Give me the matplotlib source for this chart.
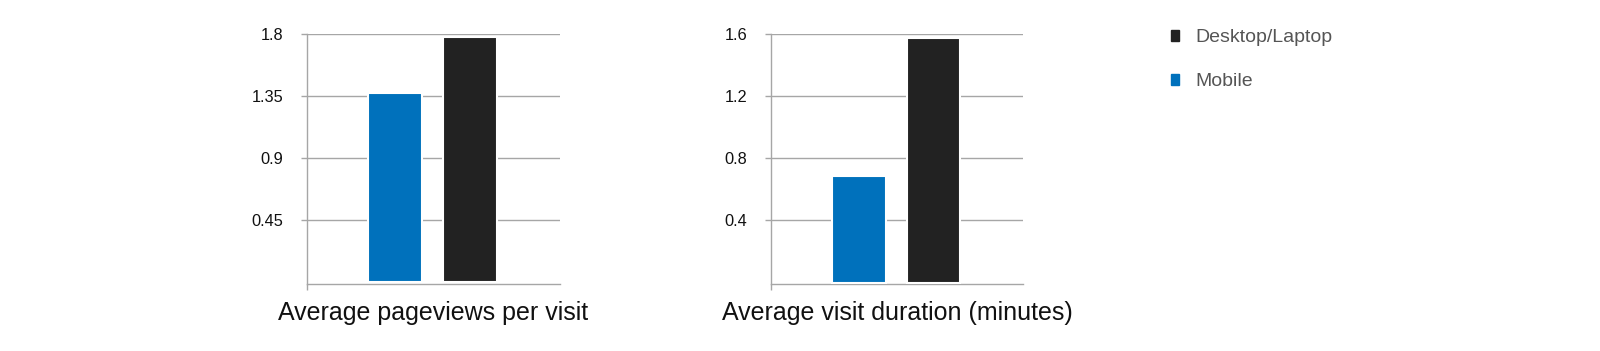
import numpy as np
import matplotlib
matplotlib.use("Agg")
import matplotlib.pyplot as plt

plt.rcParams['font.family'] = ['Liberation Sans', 'DejaVu Sans']

# data
series = ['Mobile', 'Desktop/Laptop']
colors = ['#0071bc', '#222222']
pageviews = [1.37, 1.78]
duration = [0.685, 1.575]
pv_ticks = [0.45, 0.9, 1.35, 1.8]
pv_labels = ['0.45', '0.9', '1.35', '1.8']
dur_ticks = [0.4, 0.8, 1.2, 1.6]
dur_labels = ['0.4', '0.8', '1.2', '1.6']

grid_col = '#a6a6a6'

fig = plt.figure(figsize=(16, 3.51), dpi=100)

def draw(ax, values, ticks, labels, ymin, ymax, xlabel):
    x = np.arange(len(values))
    ax.bar(x, values, width=0.72, color=colors, edgecolor='white', linewidth=1.5, zorder=3)
    ax.set_ylim(ymin, ymax)
    ax.set_xlim(-1.18, 2.2)
    ax.set_yticks(ticks)
    ax.set_yticklabels(labels, fontsize=11.8, color='#111111')
    ax.yaxis.grid(True, color=grid_col, linewidth=1, zorder=0)
    ax.set_axisbelow(True)
    ax.set_xticks([-1.18])
    ax.set_xticklabels([''])
    ax.tick_params(axis='x', length=4, color=grid_col, width=1)
    ax.tick_params(axis='y', length=4, color=grid_col, width=1, pad=13)
    for s in ['top', 'right']:
        ax.spines[s].set_visible(False)
    for s in ['left', 'bottom']:
        ax.spines[s].set_color(grid_col)
        ax.spines[s].set_linewidth(1)
    ax.set_xlabel(xlabel, fontsize=18, color='#111111', labelpad=4.5)

ax1 = fig.add_axes([307 / 1600, 1 - 284 / 351, 253 / 1600, 250 / 351])
draw(ax1, pageviews, pv_ticks, pv_labels, -0.015, 1.8, 'Average pageviews per visit')

ax2 = fig.add_axes([771 / 1600, 1 - 284 / 351, 252 / 1600, 250 / 351])
draw(ax2, duration, dur_ticks, dur_labels, -0.009, 1.6, 'Average visit duration (minutes)')

# legend
handles = [plt.Rectangle((0, 0), 1, 1, color=colors[1]),
           plt.Rectangle((0, 0), 1, 1, color=colors[0])]
fig.legend(handles, [series[1], series[0]], loc='upper left',
           bbox_to_anchor=(1153 / 1600, 1 - 12 / 351), frameon=False,
           fontsize=14, labelcolor='#555555', handlelength=0.45, handleheight=0.5,
           handletextpad=0.85, labelspacing=1.38)

fig.savefig('out.png', dpi=100)
